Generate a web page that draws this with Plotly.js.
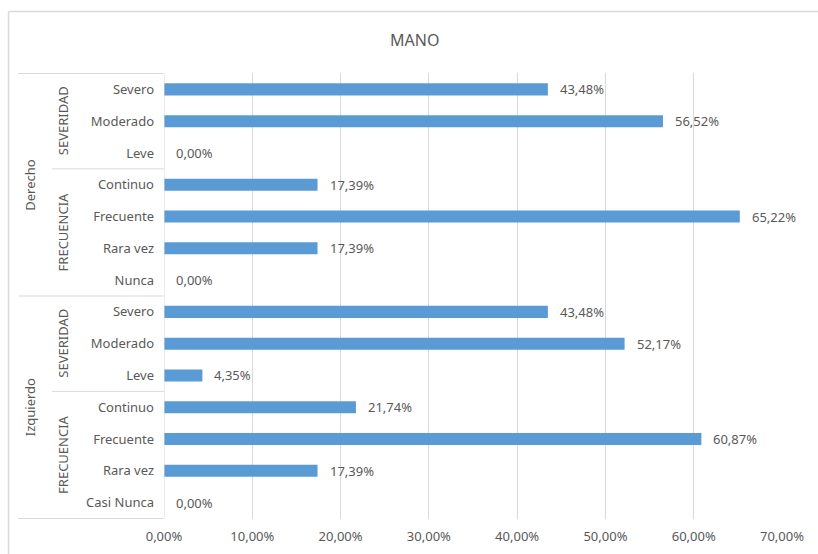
<!DOCTYPE html>
<html>
<head>
<meta charset="utf-8">
<script src="https://cdn.plot.ly/plotly-3.0.1.min.js"></script>
<style>html,body{margin:0;padding:0;background:#fff;}#chart{width:818px;height:554px;}</style>
</head>
<body>
<div id="chart"></div>
<script>
// Data, in top-to-bottom order
const sides = ["Derecho", "Derecho", "Derecho", "Derecho", "Derecho", "Derecho", "Derecho",
               "Izquierdo", "Izquierdo", "Izquierdo", "Izquierdo", "Izquierdo", "Izquierdo", "Izquierdo"];
const groups = ["SEVERIDAD", "SEVERIDAD", "SEVERIDAD", "FRECUENCIA", "FRECUENCIA", "FRECUENCIA", "FRECUENCIA",
                "SEVERIDAD", "SEVERIDAD", "SEVERIDAD", "FRECUENCIA", "FRECUENCIA", "FRECUENCIA", "FRECUENCIA"];
const items = ["Severo", "Moderado", "Leve", "Continuo", "Frecuente", "Rara vez", "Nunca",
               "Severo", "Moderado", "Leve", "Continuo", "Frecuente", "Rara vez", "Casi Nunca"];
const values = [0.4348, 0.5652, 0.0, 0.1739, 0.6522, 0.1739, 0.0,
                0.4348, 0.5217, 0.0435, 0.2174, 0.6087, 0.1739, 0.0];
const xTicks = [0, 0.1, 0.2, 0.3, 0.4, 0.5, 0.6, 0.7];

// layout geometry (pixels)
const W = 818, H = 554;
const L = 164, R = 36, T = 73, B = 35;
const pw = W - L - R, ph = H - T - B;
const px2x = p => (p - L) / pw;          // pixel x -> paper x
const py2y = p => (H - B - p) / ph;      // pixel y -> paper y

const keys = items.map((it, i) => sides[i] + "|" + groups[i] + "|" + it);
const fmt = v => (v * 100).toFixed(2).replace(".", ",") + "%";

const textColor = "#595959";
const lineColor = "#d9d9d9";
const font = "Noto Sans, Open Sans, sans-serif";

const trace = {
  type: "bar",
  orientation: "h",
  x: values,
  y: keys,
  width: 0.38,
  marker: { color: "#5b9bd5" },
  hoverinfo: "skip"
};

const annotations = [];
values.forEach((v, i) => {
  annotations.push({
    x: v, y: keys[i], xref: "x", yref: "y",
    text: fmt(v), showarrow: false, xanchor: "left", yanchor: "middle",
    xshift: 10, font: { family: font, size: 13, color: textColor }
  });
});

// group spans
function spans(arr, keyFn) {
  const out = [];
  let start = 0;
  for (let i = 1; i <= arr.length; i++) {
    if (i === arr.length || keyFn(i) !== keyFn(start)) {
      out.push({ label: arr[start], start: start, end: i - 1 });
      start = i;
    }
  }
  return out;
}
const sideSpans = spans(sides, i => sides[i]);
const groupSpans = spans(groups, i => sides[i] + "|" + groups[i]);

const shapes = [];
// outer chart border (left and top visible)
shapes.push({ type: "line", xref: "paper", yref: "paper", x0: px2x(8.5), x1: px2x(8.5), y0: py2y(11.5), y1: py2y(560), line: { color: lineColor, width: 1.5 } });
shapes.push({ type: "line", xref: "paper", yref: "paper", x0: px2x(8.5), x1: px2x(818), y0: py2y(11.5), y1: py2y(11.5), line: { color: lineColor, width: 1.5 } });
// vertical axis line
shapes.push({ type: "line", xref: "x", yref: "y", x0: 0, x1: 0, y0: -0.5, y1: keys.length - 0.5, line: { color: lineColor, width: 1 } });
// top line
shapes.push({ type: "line", xref: "paper", yref: "y", x0: px2x(18), x1: 0, y0: -0.5, y1: -0.5, line: { color: lineColor, width: 1 } });
sideSpans.forEach(s => {
  shapes.push({ type: "line", xref: "paper", yref: "y", x0: px2x(18), x1: 0, y0: s.end + 0.5, y1: s.end + 0.5, line: { color: lineColor, width: 1 } });
  annotations.push({
    x: px2x(30), y: (s.start + s.end) / 2, xref: "paper", yref: "y",
    text: s.label, showarrow: false, textangle: -90, xanchor: "center", yanchor: "middle",
    font: { family: font, size: 13, color: textColor }
  });
});
groupSpans.forEach(g => {
  if (g.end !== keys.length - 1 && sides[g.end] === sides[g.end + 1]) {
    shapes.push({ type: "line", xref: "paper", yref: "y", x0: px2x(52), x1: 0, y0: g.end + 0.5, y1: g.end + 0.5, line: { color: lineColor, width: 1 } });
  }
  annotations.push({
    x: px2x(63), y: (g.start + g.end) / 2, xref: "paper", yref: "y",
    text: g.label, showarrow: false, textangle: -90, xanchor: "center", yanchor: "middle",
    font: { family: font, size: 13, color: textColor }
  });
});

const layout = {
  width: W, height: H,
  margin: { l: L, r: R, t: T, b: B, pad: 0 },
  paper_bgcolor: "#ffffff",
  plot_bgcolor: "#ffffff",
  separators: ",.",
  showlegend: false,
  title: {
    text: "MANO", x: 0.507, xref: "container", xanchor: "center",
    y: 1 - 40 / H, yref: "container", yanchor: "middle",
    font: { family: font, size: 16, color: textColor }
  },
  xaxis: {
    range: [0, 0.7], tickvals: xTicks, tickformat: ".2%",
    showgrid: true, gridcolor: lineColor, gridwidth: 1,
    zeroline: false, showline: false, ticks: "",
    ticklabelstandoff: 8,
    tickfont: { family: font, size: 13, color: textColor },
    fixedrange: true
  },
  yaxis: {
    type: "category", categoryorder: "array", categoryarray: keys,
    autorange: "reversed",
    tickvals: keys, ticktext: items,
    showgrid: false, zeroline: false, showline: false, ticks: "",
    ticklabelstandoff: 9,
    tickfont: { family: font, size: 13, color: textColor },
    fixedrange: true
  },
  shapes: shapes,
  annotations: annotations
};

Plotly.newPlot("chart", [trace], layout, { displayModeBar: false, staticPlot: true });
</script>
</body>
</html>
